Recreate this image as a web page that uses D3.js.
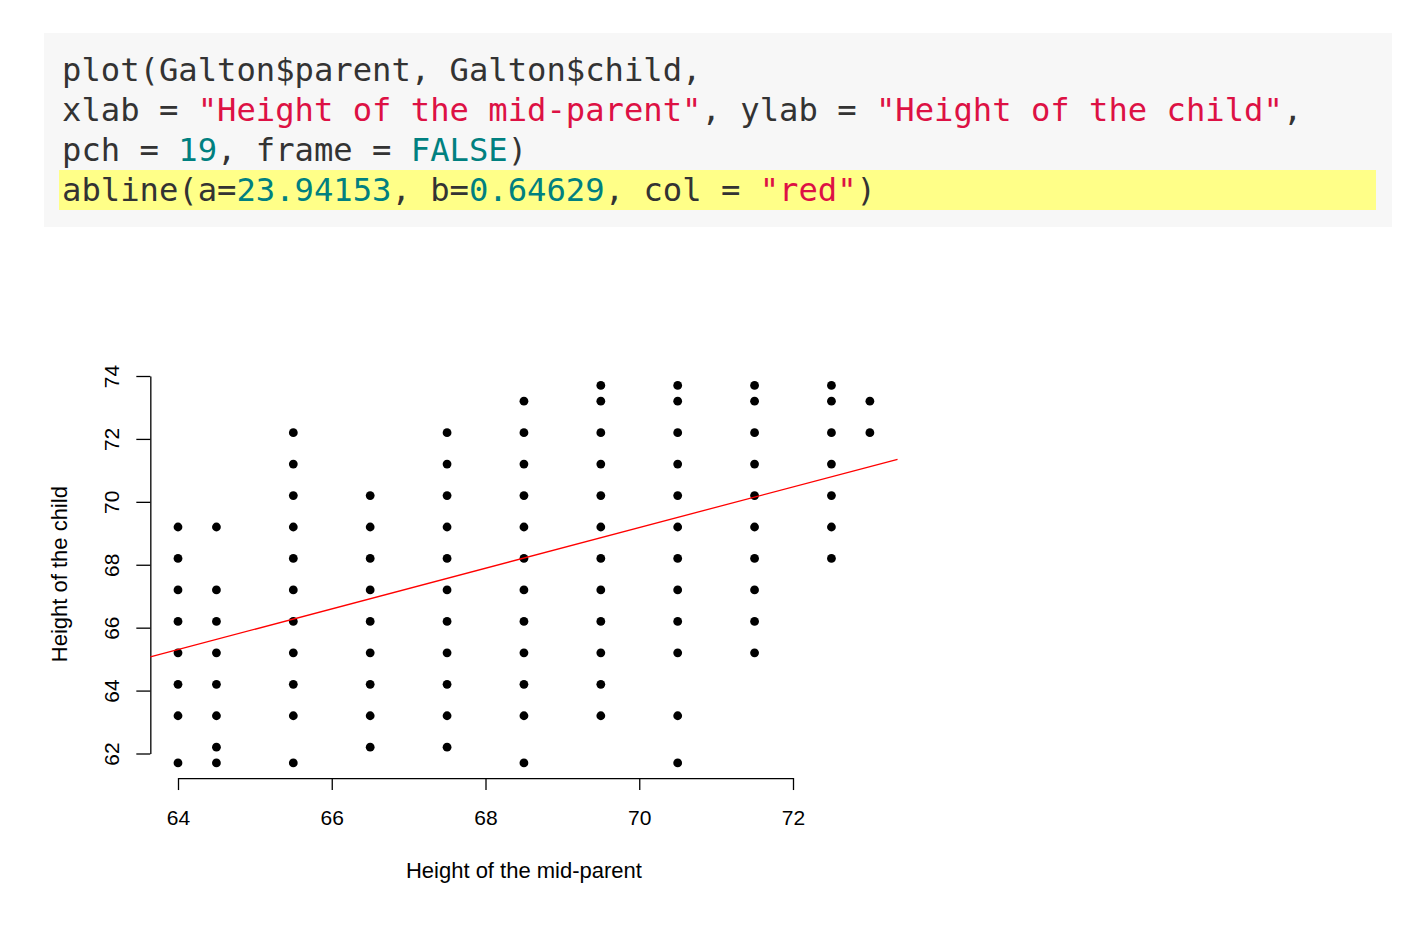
<!DOCTYPE html>
<html>
<head>
<meta charset="utf-8">
<script src="https://cdn.jsdelivr.net/npm/d3@7"></script>
<style>
  html, body { margin: 0; padding: 0; background: #ffffff; }
  svg { display: block; }
</style>
</head>
<body>
<svg id="chart" width="1419" height="927"></svg>
<script>
// ---- Data (Galton parent/child heights: distinct pairs shown in the plot) ----
const parentHeights = [64.0, 64.5, 65.5, 66.5, 67.5, 68.5, 69.5, 70.5, 71.5, 72.5, 73.0];
const childByParent = [
  [61.7, 63.2, 64.2, 65.2, 66.2, 67.2, 68.2, 69.2],
  [61.7, 62.2, 63.2, 64.2, 65.2, 66.2, 67.2, 69.2],
  [61.7, 63.2, 64.2, 65.2, 66.2, 67.2, 68.2, 69.2, 70.2, 71.2, 72.2],
  [62.2, 63.2, 64.2, 65.2, 66.2, 67.2, 68.2, 69.2, 70.2],
  [62.2, 63.2, 64.2, 65.2, 66.2, 67.2, 68.2, 69.2, 70.2, 71.2, 72.2],
  [61.7, 63.2, 64.2, 65.2, 66.2, 67.2, 68.2, 69.2, 70.2, 71.2, 72.2, 73.2],
  [63.2, 64.2, 65.2, 66.2, 67.2, 68.2, 69.2, 70.2, 71.2, 72.2, 73.2, 73.7],
  [61.7, 63.2, 65.2, 66.2, 67.2, 68.2, 69.2, 70.2, 71.2, 72.2, 73.2, 73.7],
  [65.2, 66.2, 67.2, 68.2, 69.2, 70.2, 71.2, 72.2, 73.2, 73.7],
  [68.2, 69.2, 70.2, 71.2, 72.2, 73.2, 73.7],
  [72.2, 73.2]
];
const xTicks = [64, 66, 68, 70, 72];
const yTicks = [62, 64, 66, 68, 70, 72, 74];
const ablineA = 23.94153;
const ablineB = 0.64629;
const xLabel = "Height of the mid-parent";
const yLabel = "Height of the child";

// code block lines: [text, type] tokens
const codeLines = [
  [["plot(Galton$parent, Galton$child,", "p"]],
  [["xlab = ", "p"], ["\"Height of the mid-parent\"", "s"], [", ylab = ", "p"], ["\"Height of the child\"", "s"], [",", "p"]],
  [["pch = ", "p"], ["19", "n"], [", frame = ", "p"], ["FALSE", "n"], [")", "p"]],
  [["abline(a=", "p"], ["23.94153", "n"], [", b=", "p"], ["0.64629", "n"], [", col = ", "p"], ["\"red\"", "s"], [")", "p"]]
];
const tokenColor = { p: "#333333", s: "#dd1144", n: "#008080" };

const svg = d3.select("#chart");

// ---- Code block ----
svg.append("rect").attr("x", 44).attr("y", 33).attr("width", 1348).attr("height", 194).attr("fill", "#f7f7f7");
svg.append("rect").attr("x", 59).attr("y", 170).attr("width", 1317).attr("height", 40).attr("fill", "#ffff88");
const code = svg.append("g").attr("font-family", "'DejaVu Sans Mono', 'Liberation Mono', monospace").attr("font-size", 32.2);
codeLines.forEach((toks, i) => {
  const t = code.append("text").attr("x", 62).attr("y", 81 + i * 40).attr("xml:space", "preserve").style("white-space", "pre");
  toks.forEach(([s, k]) => t.append("tspan").attr("fill", tokenColor[k]).text(s));
});

// ---- Scatter plot ----
const x = d3.scaleLinear().domain([64, 72]).range([178, 793]);
const y = d3.scaleLinear().domain([62, 74]).range([753.5, 376]);

const allX = parentHeights;
const allY = childByParent.flat();
const xr = d3.extent(allX), yr = d3.extent(allY);
const usrX = [xr[0] - 0.04 * (xr[1] - xr[0]), xr[1] + 0.04 * (xr[1] - xr[0])];
const usrY = [yr[0] - 0.04 * (yr[1] - yr[0]), yr[1] + 0.04 * (yr[1] - yr[0])];

const font = "'Liberation Sans', Arial, sans-serif";

// x axis
const gx = svg.append("g").attr("transform", `translate(0,${y(usrY[0])})`)
  .call(d3.axisBottom(x).tickValues(xTicks).tickSize(12).tickSizeOuter(0).tickFormat(d3.format("d")));
gx.select(".domain").attr("stroke", "#000").attr("stroke-width", 1.3);
gx.selectAll(".tick line").attr("stroke", "#000").attr("stroke-width", 1.3);
gx.selectAll(".tick text").attr("y", 47).attr("dy", 0).attr("fill", "#000")
  .attr("font-family", font).attr("font-size", 21);

// y axis
const gy = svg.append("g").attr("transform", `translate(${x(usrX[0])},0)`)
  .call(d3.axisLeft(y).tickValues(yTicks).tickSize(14).tickSizeOuter(0).tickFormat(d3.format("d")));
gy.select(".domain").attr("stroke", "#000").attr("stroke-width", 1.3);
gy.selectAll(".tick line").attr("stroke", "#000").attr("stroke-width", 1.3);
gy.selectAll(".tick text").attr("x", 0).attr("dy", 0).attr("fill", "#000")
  .attr("font-family", font).attr("font-size", 21)
  .attr("text-anchor", "middle")
  .attr("transform", "translate(-31,0) rotate(-90)");

// points
const pts = [];
parentHeights.forEach((p, i) => childByParent[i].forEach(c => pts.push([p, c])));
svg.append("g").selectAll("circle").data(pts).join("circle")
  .attr("cx", d => x(d[0])).attr("cy", d => y(d[1])).attr("r", 4.4).attr("fill", "#000");

// regression line
svg.append("line")
  .attr("x1", x(usrX[0])).attr("y1", y(ablineA + ablineB * usrX[0]))
  .attr("x2", x(usrX[1])).attr("y2", y(ablineA + ablineB * usrX[1]))
  .attr("stroke", "#ff0000").attr("stroke-width", 1.3);

// axis titles
svg.append("text").attr("x", (x(usrX[0]) + x(usrX[1])) / 2).attr("y", 878)
  .attr("text-anchor", "middle").attr("font-family", font).attr("font-size", 22)
  .attr("fill", "#000").text(xLabel);
svg.append("text").attr("transform", `translate(67,${(y(usrY[0]) + y(usrY[1])) / 2}) rotate(-90)`)
  .attr("text-anchor", "middle").attr("font-family", font).attr("font-size", 22)
  .attr("fill", "#000").text(yLabel);
</script>
</body>
</html>
